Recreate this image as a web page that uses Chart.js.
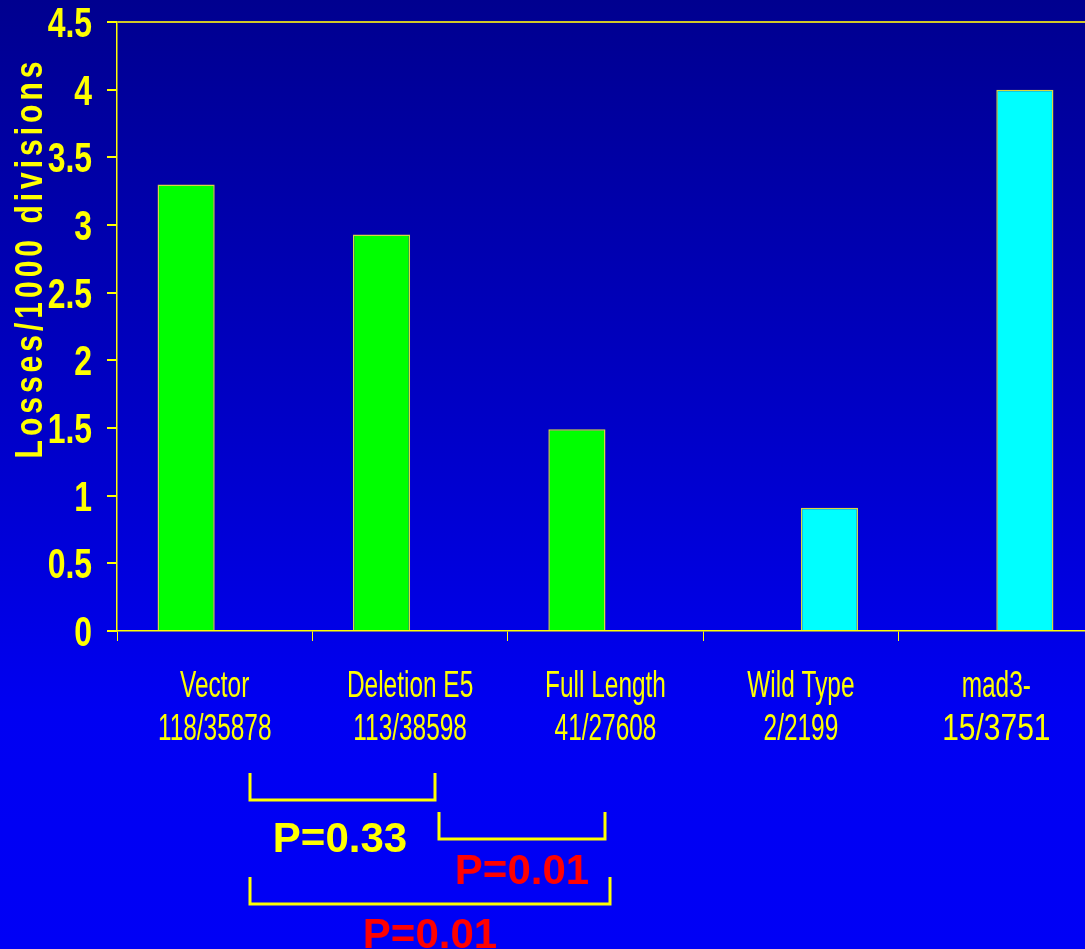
<!DOCTYPE html>
<html>
<head>
<meta charset="utf-8">
<script src="https://cdn.jsdelivr.net/npm/chart.js@4/dist/chart.umd.min.js"></script>
<style>
  html, body { margin: 0; padding: 0; overflow: hidden; width: 1085px; height: 949px; }
  body { background: linear-gradient(to bottom, #00008f 0%, #0000c8 45%, #0000f2 75%, #0000f6 100%); }
  canvas { display: block; }
</style>
</head>
<body>
<canvas id="chart" width="1094" height="949"></canvas>
<script>
"use strict";
// chart values
const categories = [
    ["Vector", "118/35878"],
    ["Deletion E5", "113/38598"],
    ["Full Length", "41/27608"],
    ["Wild Type", "2/2199"],
    ["mad3-", "15/3751"],
];
const constructValues = [3.30, 2.93, 1.49, null, null];
const controlValues = [null, null, null, 0.91, 4.00];
const yTitle = "Losses/1000 divisions";
const pLabels = ["P=0.33", "P=0.01", "P=0.01"];

const YELLOW = "#ffff00";
const SANS = "'Liberation Sans', Arial, sans-serif";

// squeezed text, like the narrow font of the original slide
function narrowText(ctx, text, x, y, sx, align) {
    ctx.save();
    ctx.translate(x, y);
    ctx.scale(sx, 1);
    ctx.textAlign = align;
    ctx.fillText(text, 0, 0);
    ctx.restore();
}

// tick labels, y title and the P-value brackets
const annotations = {
    id: "annotations",
    afterDraw(chart) {
        const ctx = chart.ctx;
        const xs = chart.scales.x;
        const ys = chart.scales.y;
        ctx.save();
        ctx.fillStyle = YELLOW;
        ctx.textBaseline = "alphabetic";

        // y tick labels
        ctx.font = "bold 42px " + SANS;
        ys.ticks.forEach(t => {
            const py = ys.getPixelForValue(t.value);
            narrowText(ctx, String(t.value), 92, py + 15, 0.76, "right");
        });

        // x tick labels
        ctx.font = "37px " + SANS;
        categories.forEach((lines, i) => {
            const px = xs.getPixelForTick(i);
            lines.forEach((line, j) => {
                const sx = (i === categories.length - 1 && j === 1) ? 0.81 : 0.66;
                narrowText(ctx, line, px, xs.top + 66 + j * 43, sx, "center");
            });
        });

        // rotated y title
        ctx.save();
        ctx.translate(42, 258);
        ctx.rotate(-Math.PI / 2);
        ctx.scale(1, 1.3);
        ctx.font = "bold 30px " + SANS;
        ctx.letterSpacing = "4px";
        ctx.textAlign = "center";
        ctx.fillText(yTitle, 0, 0);
        ctx.restore();

        // brackets
        ctx.strokeStyle = YELLOW;
        ctx.lineWidth = 3;
        function bracket(x1, x2, top, bottom) {
            ctx.beginPath();
            ctx.moveTo(x1, top);
            ctx.lineTo(x1, bottom);
            ctx.lineTo(x2, bottom);
            ctx.lineTo(x2, top);
            ctx.stroke();
        }
        bracket(250, 435, 773, 800);
        bracket(439, 605, 812, 839);
        bracket(250, 610, 877, 904);

        ctx.font = "bold 42px " + SANS;
        ctx.textAlign = "center";
        ctx.fillStyle = YELLOW;
        ctx.fillText(pLabels[0], 340, 852);
        ctx.fillStyle = "#ff0000";
        ctx.fillText(pLabels[1], 522, 884);
        ctx.fillText(pLabels[2], 430, 948);
        ctx.restore();
    }
};

new Chart(document.getElementById("chart").getContext("2d"), {
    type: "bar",
    data: {
        labels: categories,
        datasets: [
            {
                label: "constructs",
                data: constructValues,
                backgroundColor: "#00ff00",
                borderColor: "#d8d840",
                borderWidth: 1.5,
            },
            {
                label: "controls",
                data: controlValues,
                backgroundColor: "#00ffff",
                borderColor: "#d8d840",
                borderWidth: 1.5,
            },
        ],
    },
    options: {
        responsive: false,
        animation: false,
        devicePixelRatio: 1,
        layout: { padding: { top: 22, left: 0, right: 0, bottom: 0 } },
        datasets: { bar: { categoryPercentage: 0.585, barPercentage: 1.0 } },
        plugins: {
            legend: { display: false },
            tooltip: { enabled: false },
        },
        scales: {
            x: {
                offset: true,
                grid: {
                    offset: true,
                    drawOnChartArea: false,
                    color: YELLOW,
                    tickColor: YELLOW,
                    tickLength: 10,
                    lineWidth: 1,
                },
                border: { color: YELLOW, width: 1.5 },
                ticks: { display: false, autoSkip: false },
                afterFit(scale) { scale.height = 318; },
            },
            y: {
                min: 0,
                max: 4.5,
                grid: {
                    color: ctx => (ctx.tick && ctx.tick.value === 4.5) ? "#d0c828" : "transparent",
                    lineWidth: 2,
                    tickColor: YELLOW,
                    tickLength: 10,
                },
                border: { color: YELLOW, width: 1.5 },
                ticks: { display: false, stepSize: 0.5 },
                afterFit(scale) { scale.width = 117; },
            },
        },
    },
    plugins: [annotations],
});
</script>
</body>
</html>
